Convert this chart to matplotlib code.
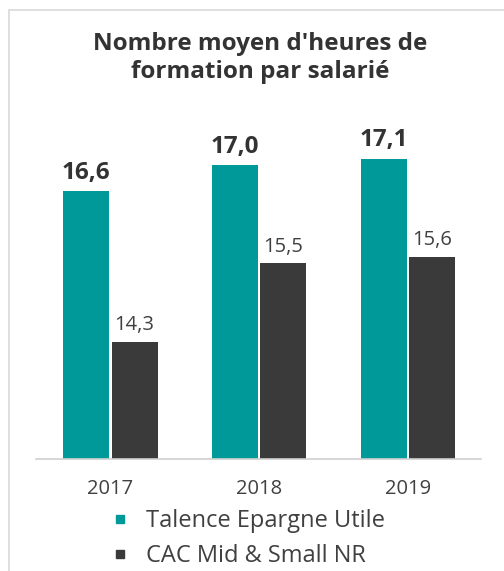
import matplotlib.pyplot as plt
from matplotlib.patches import Rectangle
from matplotlib.lines import Line2D
import numpy as np

years = ['2017', '2018', '2019']
talence = [16.6, 17.0, 17.1]
cac = [14.3, 15.5, 15.6]
series_names = ['Talence Epargne Utile', 'CAC Mid & Small NR']

TEAL = '#00999A'
DARK = '#3A3A3A'
TXT = '#404040'

plt.rcParams['font.family'] = ['Open Sans', 'DejaVu Sans']

fig = plt.figure(figsize=(5.04, 5.71), dpi=100)
ax = fig.add_axes([0.0714, 0.196, 0.8826, 0.559])

x = np.arange(len(years))
w = 0.31
ax.bar(x - 0.163, talence, w, color=TEAL)
ax.bar(x + 0.163, cac, w, color=DARK)

for xi, v in zip(x, talence):
    ax.text(xi - 0.163, v + 0.1, f'{v:.1f}'.replace('.', ','), ha='center', va='bottom',
            fontsize=17.5, fontweight='bold', color='#333333')
for xi, v in zip(x, cac):
    ax.text(xi + 0.163, v + 0.1, f'{v:.1f}'.replace('.', ','), ha='center', va='bottom',
            fontsize=14.5, color=TXT)

ax.set_xlim(-0.5, 2.49)
ax.set_ylim(12.5, 17.39)
ax.set_xticks(x)
ax.set_xticklabels(years, fontsize=14.5, color=TXT)
ax.tick_params(axis='x', length=0, pad=14)
ax.set_yticks([])
for s in ['top', 'right', 'left']:
    ax.spines[s].set_visible(False)
ax.spines['bottom'].set_color('#d0d0d0')
ax.spines['bottom'].set_linewidth(1.2)

fig.text(0.516, 0.898, "Nombre moyen d'heures de\nformation par salarié", ha='center', va='center',
         fontsize=17.5, fontweight='bold', color='#333333', linespacing=1.25)

handles = [Line2D([], [], marker='s', linestyle='none', markersize=6, color=c)
           for c in [TEAL, DARK]]
fig.legend(handles, series_names, loc='upper left', bbox_to_anchor=(0.225, 0.108),
           frameon=False, fontsize=17, handlelength=0.6, handletextpad=0.8,
           labelspacing=0.45, labelcolor=TXT, borderaxespad=0, borderpad=0)

fig.patches.append(Rectangle((9 / 504, -0.1), 1.2, 1.1 - 10 / 571, transform=fig.transFigure,
                             fill=False, edgecolor='#d9d9d9', linewidth=1.2))

fig.savefig('out.png', dpi=100)
